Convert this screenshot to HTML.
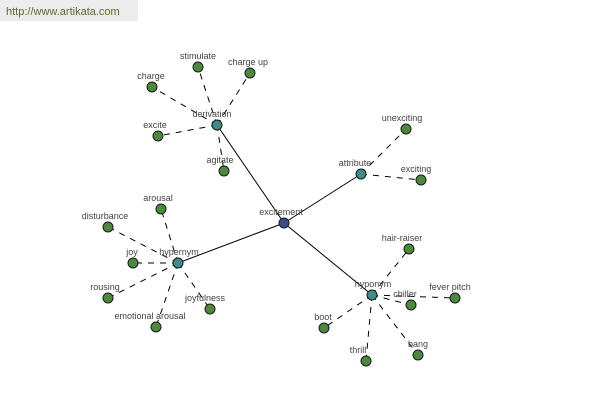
<!DOCTYPE html>
<html><head><meta charset="utf-8"><style>
html,body{margin:0;padding:0;background:#fff;width:600px;height:400px;overflow:hidden}
svg text{font-family:"Liberation Sans",sans-serif;font-size:9px;fill:#444;text-anchor:middle}
</style></head><body>
<svg width="600" height="400" xmlns="http://www.w3.org/2000/svg">
<rect x="0" y="0" width="138" height="21" fill="#ececec"/>
<text x="6" y="15" style="text-anchor:start;font-size:11px;fill:#5a6a30">http://www.artikata.com</text>
<g stroke="#000" stroke-width="1">
<line x1="284" y1="223" x2="217" y2="125"/>
<line x1="284" y1="223" x2="361" y2="174"/>
<line x1="284" y1="223" x2="178" y2="263"/>
<line x1="284" y1="223" x2="372" y2="295"/>
</g>
<g stroke="#000" stroke-width="1" stroke-dasharray="6,6">
<line x1="217" y1="125" x2="198" y2="67"/>
<line x1="217" y1="125" x2="250" y2="73"/>
<line x1="217" y1="125" x2="152" y2="87"/>
<line x1="217" y1="125" x2="158" y2="136"/>
<line x1="217" y1="125" x2="224" y2="171"/>
<line x1="361" y1="174" x2="406" y2="129"/>
<line x1="361" y1="174" x2="421" y2="180"/>
<line x1="178" y1="263" x2="161" y2="209"/>
<line x1="178" y1="263" x2="108" y2="227"/>
<line x1="178" y1="263" x2="133" y2="263"/>
<line x1="178" y1="263" x2="108" y2="298"/>
<line x1="178" y1="263" x2="156" y2="327"/>
<line x1="178" y1="263" x2="210" y2="309"/>
<line x1="372" y1="295" x2="409" y2="249"/>
<line x1="372" y1="295" x2="411" y2="305"/>
<line x1="372" y1="295" x2="455" y2="298"/>
<line x1="372" y1="295" x2="324" y2="328"/>
<line x1="372" y1="295" x2="366" y2="361"/>
<line x1="372" y1="295" x2="418" y2="355"/>
</g>
<g stroke="#1a1a1a" stroke-width="1" fill="#4b8a3c">
<circle cx="198" cy="67" r="5"/><circle cx="250" cy="73" r="5"/><circle cx="152" cy="87" r="5"/>
<circle cx="158" cy="136" r="5"/><circle cx="224" cy="171" r="5"/>
<circle cx="406" cy="129" r="5"/><circle cx="421" cy="180" r="5"/>
<circle cx="161" cy="209" r="5"/><circle cx="108" cy="227" r="5"/><circle cx="133" cy="263" r="5"/>
<circle cx="108" cy="298" r="5"/><circle cx="156" cy="327" r="5"/><circle cx="210" cy="309" r="5"/>
<circle cx="409" cy="249" r="5"/><circle cx="411" cy="305" r="5"/><circle cx="455" cy="298" r="5"/>
<circle cx="324" cy="328" r="5"/><circle cx="366" cy="361" r="5"/><circle cx="418" cy="355" r="5"/>
</g>
<g stroke="#1a1a1a" stroke-width="1" fill="#3f8c8c">
<circle cx="217" cy="125" r="5"/><circle cx="361" cy="174" r="5"/>
<circle cx="178" cy="263" r="5"/><circle cx="372" cy="295" r="5"/>
</g>
<circle cx="284" cy="223" r="5" fill="#3d4a8e" stroke="#1a1a1a"/>
<text x="198" y="59">stimulate</text>
<text x="248" y="65">charge up</text>
<text x="151" y="79">charge</text>
<text x="155" y="128">excite</text>
<text x="212" y="117">derivation</text>
<text x="220" y="163">agitate</text>
<text x="402" y="121">unexciting</text>
<text x="416" y="172">exciting</text>
<text x="355" y="166">attribute</text>
<text x="281" y="215">excitement</text>
<text x="158" y="201">arousal</text>
<text x="105" y="219">disturbance</text>
<text x="132" y="255">joy</text>
<text x="179" y="255">hypernym</text>
<text x="105" y="290">rousing</text>
<text x="150" y="319">emotional arousal</text>
<text x="205" y="301">joyfulness</text>
<text x="402" y="241">hair-raiser</text>
<text x="373" y="287">hyponym</text>
<text x="405" y="297">chiller</text>
<text x="450" y="290">fever pitch</text>
<text x="323" y="320">boot</text>
<text x="358" y="353">thrill</text>
<text x="418" y="347">bang</text>
</svg>
</body></html>
